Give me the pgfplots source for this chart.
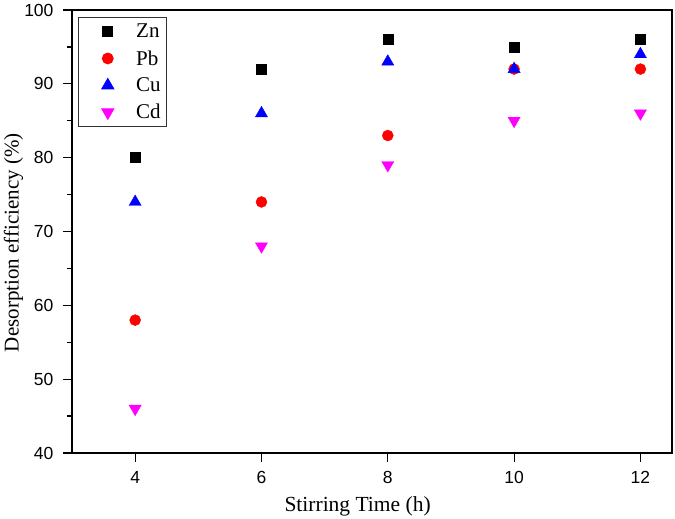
\documentclass[border=0pt]{standalone}
\usepackage{fontspec}
\setmainfont{Liberation Serif}
\newfontfamily\arial{Liberation Sans}
\usepackage{pgfplots}
\pgfplotsset{compat=1.18}
\definecolor{mymag}{RGB}{255,0,255}
\begin{document}
\begin{tikzpicture}
\begin{axis}[
  scale only axis,
  width=600pt, height=443pt,
  xmin=3, xmax=12.5, ymin=40, ymax=100,
  xtick={4,6,8,10,12},
  ytick={40,50,60,70,80,90,100},
  minor ytick={45,55,65,75,85,95},
  tick align=outside,
  tick pos=left,
  major tick length=9pt,
  minor tick length=5pt,
  every tick/.style={black, line width=1.2pt},
  axis line style={line width=1.2pt},
  /pgf/number format/assume math mode=true,
  tick label style={font=\arial\fontsize{17.5}{20}\selectfont},
  xticklabel style={yshift=-6pt},
  yticklabel style={xshift=-6pt},
  xlabel={Stirring Time (h)},
  ylabel={Desorption efficiency (\%)},
  xlabel style={font=\fontsize{21.5}{24}\selectfont, at={(axis description cs:0.476,-0.12)}, anchor=center},
  ylabel style={font=\fontsize{21}{24}\selectfont, at={(axis description cs:-0.0975,0.475)}, anchor=center},
  legend style={at={(0.01,0.984)}, anchor=north west, draw=black!80, line width=0.8pt,
    font=\fontsize{21}{24}\selectfont, row sep=7.2pt, column sep=0pt,
    inner xsep=4pt, inner ysep=4.5pt, nodes={inner sep=2pt}},
  legend cell align=left,
  legend image code/.code={\path (0pt,0pt) (51pt,0pt);\draw plot coordinates {(25pt,0pt)};},
]
\addplot[only marks, mark=square*, mark size=5pt, black] coordinates {(4,80) (6,92) (8,96) (10,95) (12,96)};
\addlegendentry{Zn}
\addplot[only marks, mark=*, mark size=5.5pt, red, fill=red] coordinates {(4,58) (6,74) (8,83) (10,92) (12,92)};
\addlegendentry{Pb}
\addplot[only marks, mark=triangle*, mark size=7pt, blue, fill=blue] coordinates {(4,74) (6,86) (8,93) (10,92) (12,94)};
\addlegendentry{Cu}
\addplot[only marks, mark=triangle*, mark size=7pt, mark options={rotate=180}, mymag, fill=mymag] coordinates {(4,46) (6,68) (8,79) (10,85) (12,86)};
\addlegendentry{Cd}
\coordinate (sw) at (rel axis cs:0,0);
\coordinate (ne) at (rel axis cs:1,1);
\end{axis}
\pgfresetboundingbox
\path (sw) +(-72pt,-66pt) (ne) +(3pt,10pt);
\end{tikzpicture}
\end{document}
